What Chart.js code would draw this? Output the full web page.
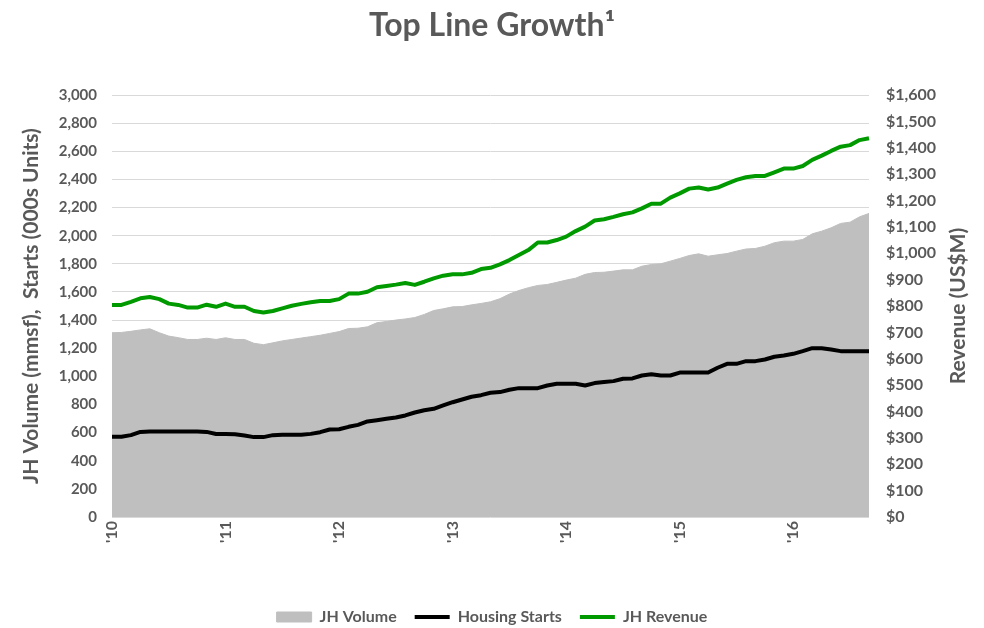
<!DOCTYPE html>
<html>
<head>
<meta charset="utf-8">
<script src="https://cdn.jsdelivr.net/npm/chart.js@4/dist/chart.umd.min.js"></script>
<style>
html,body{margin:0;padding:0;background:#fff;}
#wrap{width:984px;height:628px;position:relative;}
</style>
</head>
<body>
<div id="wrap"><canvas id="c" width="984" height="628"></canvas></div>
<script>
// Monthly categories Jan 2010 .. Sep 2016
const startYear = 2010;
const monthCount = 81;
const categories = [];
for (let i = 0; i < monthCount; i++) {
  const y = startYear + Math.floor(i / 12);
  const m = (i % 12) + 1;
  categories.push(y + '-' + (m < 10 ? '0' + m : m));
}
const yearTickLabels = ["'10", "'11", "'12", "'13", "'14", "'15", "'16"];

// JH Volume (mmsf) - left axis
const jhVolume = [
  1310,1312,1320,1330,1338,1310,1286,1275,1262,1262,
  1271,1262,1274,1262,1262,1235,1225,1238,1252,1262,
  1272,1282,1292,1305,1318,1340,1342,1352,1381,1390,
  1400,1408,1418,1440,1468,1480,1494,1496,1508,1518,
  1530,1552,1585,1610,1630,1646,1653,1668,1684,1698,
  1725,1738,1740,1748,1757,1757,1783,1795,1800,1819,
  1838,1859,1871,1854,1864,1873,1890,1905,1909,1925,
  1950,1961,1961,1973,2013,2032,2056,2087,2096,2134,
  2158
];
// Housing Starts (000s units) - left axis
const housingStarts = [
  570,570,582,605,608,608,608,608,608,608,
  605,590,590,589,580,568,568,582,584,584,
  584,591,603,622,624,641,655,679,688,698,
  707,722,743,759,769,793,816,835,855,866,
  883,888,905,916,916,916,935,947,947,947,
  935,952,959,966,983,985,1006,1015,1006,1006,
  1027,1027,1027,1027,1061,1089,1089,1108,1108,1120,
  1139,1148,1160,1179,1200,1200,1191,1179,1179,1179,
  1179
];
// JH Revenue (US$M) - right axis
const jhRevenue = [
  804,804,816,829,834,826,809,804,794,794,
  805,797,809,797,797,781,775,781,791,801,
  808,814,819,819,826,847,847,854,871,876,
  881,887,880,892,905,915,920,920,926,940,
  945,958,974,993,1012,1041,1041,1050,1063,1084,
  1101,1124,1129,1138,1148,1155,1170,1188,1188,1211,
  1227,1245,1249,1242,1249,1264,1278,1288,1293,1293,
  1307,1321,1321,1331,1354,1370,1388,1404,1410,1429,
  1436
];

const rightAxisTitle = 'Revenue (US$M)';
const TXT = '#595959';
const FONT = 'Lato, "Open Sans", "DejaVu Sans", sans-serif';

// Right-hand axis title, reading bottom-to-top like the left one
const rightTitlePlugin = {
  id: 'rightTitle',
  afterDraw(chart) {
    const ctx = chart.ctx;
    const a = chart.chartArea;
    ctx.save();
    ctx.translate(958, (a.top + a.bottom) / 2);
    ctx.rotate(-Math.PI / 2);
    ctx.fillStyle = TXT;
    ctx.font = 'bold 21px ' + FONT;
    ctx.textAlign = 'center';
    ctx.textBaseline = 'middle';
    ctx.fillText(rightAxisTitle, 0, 0);
    ctx.restore();
  }
};

new Chart(document.getElementById('c'), {
  type: 'line',
  data: {
    labels: categories,
    datasets: [
      {
        label: 'JH Volume',
        data: jhVolume,
        yAxisID: 'y',
        fill: 'origin',
        backgroundColor: '#BFBFBF',
        borderColor: '#BFBFBF',
        borderWidth: 1,
        pointRadius: 0,
        pointStyle: 'rect',
        tension: 0,
        order: 3
      },
      {
        label: 'Housing Starts',
        data: housingStarts,
        yAxisID: 'y',
        fill: false,
        borderColor: '#000000',
        backgroundColor: '#000000',
        borderWidth: 4,
        pointRadius: 0,
        pointStyle: 'line',
        tension: 0,
        borderJoinStyle: 'round',
        order: 2
      },
      {
        label: 'JH Revenue',
        data: jhRevenue,
        yAxisID: 'y1',
        fill: false,
        borderColor: '#009A00',
        backgroundColor: '#009A00',
        borderWidth: 4,
        pointRadius: 0,
        pointStyle: 'line',
        tension: 0,
        borderJoinStyle: 'round',
        order: 1
      }
    ]
  },
  options: {
    responsive: false,
    animation: false,
    layout: { padding: { left: 0, right: 0, top: 0, bottom: -7 } },
    plugins: {
      title: {
        display: true,
        text: 'Top Line Growth\u00B9',
        color: TXT,
        font: { family: FONT, size: 32, weight: 'bold' },
        padding: { top: 6, bottom: 50.6 }
      },
      legend: {
        display: true,
        position: 'bottom',
        labels: {
          sort: (a, b) => a.datasetIndex - b.datasetIndex,
          usePointStyle: true,
          pointStyleWidth: 35,
          boxHeight: 10,
          padding: 18,
          color: TXT,
          font: { family: FONT, size: 16, weight: 'bold' }
        }
      },
      tooltip: { enabled: false }
    },
    scales: {
      x: {
        type: 'category',
        offset: false,
        grid: { display: false, drawTicks: false },
        border: { display: false },
        ticks: {
          autoSkip: false,
          maxRotation: 90,
          minRotation: 90,
          padding: 4,
          color: TXT,
          font: { family: FONT, size: 16, weight: 'bold' },
          callback: function (val, idx) {
            return idx % 12 === 0 ? yearTickLabels[idx / 12] : '';
          }
        },
        afterFit: function (s) { s.height = 74; }
      },
      y: {
        position: 'left',
        min: 0,
        max: 3000,
        grid: { color: '#D9D9D9', lineWidth: 1, drawTicks: false },
        border: { display: false },
        ticks: {
          stepSize: 200,
          padding: 15,
          color: TXT,
          font: { family: FONT, size: 15, weight: 'bold' },
          callback: v => v.toLocaleString('en-US')
        },
        title: {
          display: true,
          text: 'JH Volume (mmsf),  Starts (000s Units)',
          color: TXT,
          font: { family: FONT, size: 21, weight: 'bold' },
          padding: { top: 19, bottom: 0 }
        },
        afterFit: function (s) { s.width = 112; }
      },
      y1: {
        position: 'right',
        min: 0,
        max: 1600,
        grid: { drawOnChartArea: false, drawTicks: false },
        border: { display: false },
        ticks: {
          stepSize: 100,
          padding: 17,
          color: TXT,
          font: { family: FONT, size: 16, weight: 'bold' },
          callback: v => '$' + v.toLocaleString('en-US')
        },
        afterFit: function (s) { s.width = 115; }
      }
    }
  },
  plugins: [rightTitlePlugin]
});
</script>
</body>
</html>
